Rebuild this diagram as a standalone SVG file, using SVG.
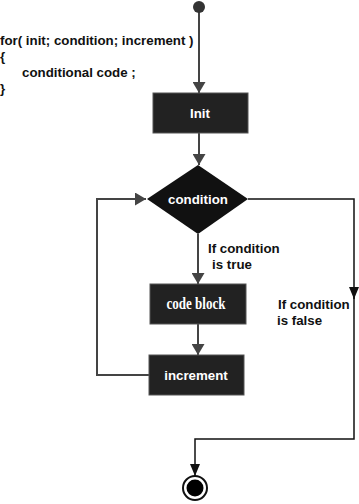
<svg xmlns="http://www.w3.org/2000/svg" width="359" height="504" viewBox="0 0 359 504">
<style>
.t{font-family:"Liberation Sans",Arial,sans-serif;font-size:13.3px;font-weight:bold;fill:#111}
.w{font-family:"Liberation Sans",Arial,sans-serif;font-size:13.3px;font-weight:bold;fill:#fff}
.box{fill:#222;stroke:#555;stroke-width:1}
.ln{fill:none;stroke:#444;stroke-width:2}
.lk{fill:none;stroke:#111;stroke-width:1.5}
</style>
<defs>
<marker id="ah" markerWidth="11" markerHeight="13" refX="11" refY="6.5" orient="auto" markerUnits="userSpaceOnUse">
<path d="M0,0 L11,6.5 L0,13 z" fill="#444"/>
</marker>
<marker id="ak" markerWidth="12" markerHeight="10" refX="12" refY="5" orient="auto" markerUnits="userSpaceOnUse">
<path d="M0,0 L12,5 L0,10 z" fill="#111"/>
</marker>
</defs>
<g id="code">
<text class="t" x="0" y="45">for( init; condition; increment )</text>
<text class="t" x="0" y="61">{</text>
<text class="t" x="22" y="77">conditional code ;</text>
<text class="t" x="0" y="93">}</text>
</g>
<g id="connectors">
<path class="ln" d="M199,12 V93" marker-end="url(#ah)"/>
<path class="ln" d="M199,133 V165" marker-end="url(#ah)"/>
<path class="ln" d="M198,234 V284" marker-end="url(#ah)"/>
<path class="ln" d="M198,324 V355" marker-end="url(#ah)"/>
<path class="ln" d="M149,375 H97 V199 H146" marker-end="url(#ah)"/>
<path class="lk" d="M248,199 H354 V299"/>
<path class="lk" d="M354,287 V299" marker-end="url(#ak)"/>
<path class="lk" d="M354,299 V439 H195 V476" marker-end="url(#ak)"/>
<text class="t" x="208" y="253">If condition</text>
<text class="t" x="212" y="269">is true</text>
<text class="t" x="278" y="309">If condition</text>
<text class="t" x="277" y="325">is false</text>
</g>
<g id="start">
<circle cx="199" cy="7" r="6" fill="#333"/>
</g>
<g id="init">
<rect class="box" x="153" y="93" width="95" height="40"/>
<text class="w" x="200" y="118" text-anchor="middle">Init</text>
</g>
<g id="condition">
<path d="M198,165 L248,199 L198,234 L147,199 z" fill="#111"/>
<text class="w" x="198" y="204" text-anchor="middle">condition</text>
</g>
<g id="codeblock">
<rect class="box" x="150" y="284" width="96" height="40"/>
<text x="196" y="309" text-anchor="middle" font-family="'Liberation Serif',serif" font-size="16" font-weight="bold" fill="#fff" textLength="59" lengthAdjust="spacingAndGlyphs">code block</text>
</g>
<g id="increment">
<rect class="box" x="149" y="355" width="95" height="40"/>
<text class="w" x="196" y="380" text-anchor="middle">increment</text>
</g>
<g id="end">
<circle cx="195" cy="488" r="12" fill="#fff" stroke="#111" stroke-width="2"/>
<circle cx="195" cy="488" r="8.5" fill="#000"/>
</g>
</svg>
